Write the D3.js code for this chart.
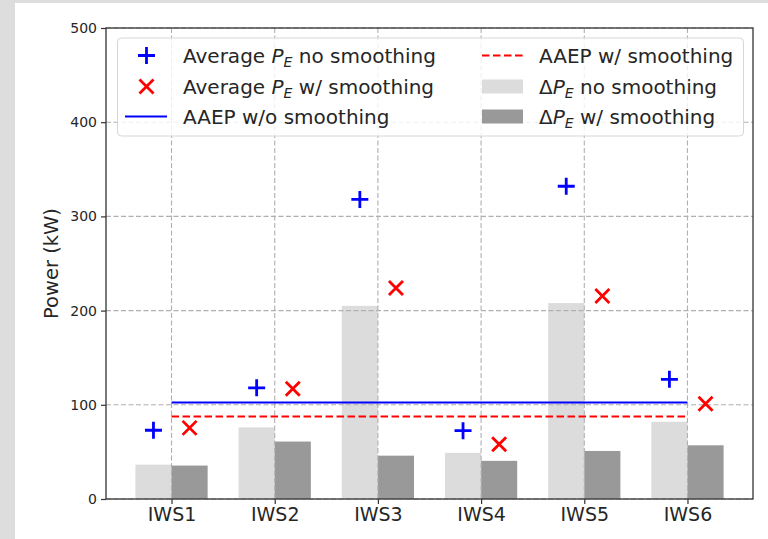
<!DOCTYPE html>
<html lang="en">
<head>
    <meta charset="UTF-8">
    <title>Power per IWS</title>
    <style>
        body { margin: 0; background: #dddddd; }
        svg { display: block; font-family: "DejaVu Sans", sans-serif; }
    </style>
</head>
<body>
    <div id="chart"></div>
    <script src="https://d3js.org/d3.v7.min.js"></script>
    <script>
        // data
        const sites = ["IWS1", "IWS2", "IWS3", "IWS4", "IWS5", "IWS6"];
        const avgNoSmooth = [73, 118, 318, 72.5, 332, 127];
        const avgSmooth = [75.5, 117, 224, 58, 215.5, 101];
        const deltaNoSmooth = [36.5, 76, 205, 49, 208, 82];
        const deltaSmooth = [35.5, 61, 46, 40.5, 51, 57];
        const aaepNoSmooth = 102.5;
        const aaepSmooth = 87.5;
        const yTicks = [0, 100, 200, 300, 400, 500];

        const width = 768, height = 539;
        const m = { left: 106, right: 753, top: 28, bottom: 499 };

        const svg = d3.select("#chart").append("svg").attr("width", width).attr("height", height);
        svg.append("rect").attr("x", 15).attr("y", 3).attr("width", width - 15).attr("height", height - 3).attr("fill", "#fff");

        // matplotlib style: positions 0..5, bars +-0.175, margins
        const x = d3.scaleLinear().domain([-0.635, 5.635]).range([m.left, m.right]);
        const y = d3.scaleLinear().domain([0, 500]).range([m.bottom, m.top]);
        const bw = 0.35;
        const idx = sites.map((d, i) => i);

        // bars
        svg.append("g").selectAll("rect").data(idx).enter().append("rect")
            .attr("x", i => x(i - bw))
            .attr("width", x(bw) - x(0))
            .attr("y", i => y(deltaNoSmooth[i]))
            .attr("height", i => y(0) - y(deltaNoSmooth[i]))
            .attr("fill", "#dcdcdc");
        svg.append("g").selectAll("rect").data(idx).enter().append("rect")
            .attr("x", i => x(i))
            .attr("width", x(bw) - x(0))
            .attr("y", i => y(deltaSmooth[i]))
            .attr("height", i => y(0) - y(deltaSmooth[i]))
            .attr("fill", "#999999");

        // grid
        const grid = svg.append("g").attr("stroke", "#b0b0b0").attr("stroke-width", 1.1).attr("stroke-dasharray", "5,2.5");
        yTicks.forEach(t => grid.append("line").attr("x1", m.left).attr("x2", m.right).attr("y1", y(t)).attr("y2", y(t)));
        idx.forEach(i => grid.append("line").attr("x1", x(i)).attr("x2", x(i)).attr("y1", m.top).attr("y2", m.bottom));

        // AAEP lines
        svg.append("line").attr("x1", x(0)).attr("x2", x(5)).attr("y1", y(aaepNoSmooth)).attr("y2", y(aaepNoSmooth))
            .attr("stroke", "#0000ff").attr("stroke-width", 2);
        svg.append("line").attr("x1", x(0)).attr("x2", x(5)).attr("y1", y(aaepSmooth)).attr("y2", y(aaepSmooth))
            .attr("stroke", "#ff0000").attr("stroke-width", 2).attr("stroke-dasharray", "7.5,3.5");

        // markers
        const plus = (g, cx, cy, s) => g.append("path")
            .attr("d", `M${cx - s},${cy}H${cx + s}M${cx},${cy - s}V${cy + s}`)
            .attr("stroke", "#0000ff").attr("stroke-width", 2.8).attr("fill", "none");
        const cross = (g, cx, cy, s) => g.append("path")
            .attr("d", `M${cx - s},${cy - s}L${cx + s},${cy + s}M${cx - s},${cy + s}L${cx + s},${cy - s}`)
            .attr("stroke", "#ff0000").attr("stroke-width", 2.8).attr("fill", "none");
        const mk = svg.append("g");
        idx.forEach(i => {
            plus(mk, x(i - 0.175), y(avgNoSmooth[i]), 8.5);
            cross(mk, x(i + 0.175), y(avgSmooth[i]), 7);
        });

        // spines
        svg.append("rect").attr("x", m.left).attr("y", m.top).attr("width", m.right - m.left).attr("height", m.bottom - m.top)
            .attr("fill", "none").attr("stroke", "#333").attr("stroke-width", 1.3);

        // y axis
        const yAxis = svg.append("g").attr("transform", `translate(${m.left},0)`)
            .call(d3.axisLeft(y).tickValues(yTicks).tickSize(5).tickPadding(4));
        yAxis.select(".domain").remove();
        yAxis.selectAll("line").attr("stroke", "#333").attr("stroke-width", 1.2);
        yAxis.selectAll("text").attr("font-size", 14).attr("fill", "#262626").attr("font-family", "DejaVu Sans");

        const xAxis = svg.append("g").attr("transform", `translate(0,${m.bottom})`)
            .call(d3.axisBottom(x).tickValues(idx).tickFormat(i => sites[i]).tickSize(5).tickPadding(4));
        xAxis.select(".domain").remove();
        xAxis.selectAll("line").attr("stroke", "#333").attr("stroke-width", 1.2);
        xAxis.selectAll("text").attr("font-size", 19).attr("fill", "#262626").attr("font-family", "DejaVu Sans");

        svg.append("text").attr("transform", `translate(58,${(m.top + m.bottom) / 2}) rotate(-90)`)
            .attr("text-anchor", "middle").attr("font-size", 19.5).attr("fill", "#262626").text("Power (kW)");

        // legend
        const lg = svg.append("g");
        lg.append("rect").attr("x", 117.5).attr("y", 38).attr("width", 626).attr("height", 98).attr("rx", 4)
            .attr("fill", "#fff").attr("fill-opacity", 0.8).attr("stroke", "#d6d6d6").attr("stroke-width", 1);
        const rows = [55.5, 86.5, 116.5];
        const fs = 20;

        function label(tx, ty, pre, mathDelta, post) {
            const t = lg.append("text").attr("x", tx).attr("y", ty).attr("dy", "0.35em")
                .attr("font-size", fs).attr("fill", "#262626");
            if (pre) t.append("tspan").text(pre);
            if (mathDelta !== null) {
                if (mathDelta) t.append("tspan").text("Δ");
                t.append("tspan").attr("font-style", "italic").text("P");
                t.append("tspan").attr("font-style", "italic").attr("font-size", fs * 0.7).attr("dy", 4).text("E");
                t.append("tspan").attr("dy", -4).text(post);
            } else {
                t.append("tspan").text(post);
            }
        }

        plus(lg, 146.5, rows[0], 8.5);
        label(183, rows[0], "Average ", false, " no smoothing");
        cross(lg, 146.5, rows[1], 7);
        label(183, rows[1], "Average ", false, " w/ smoothing");
        lg.append("line").attr("x1", 125).attr("x2", 167).attr("y1", rows[2]).attr("y2", rows[2])
            .attr("stroke", "#0000ff").attr("stroke-width", 2);
        label(183, rows[2], "", null, "AAEP w/o smoothing");

        lg.append("line").attr("x1", 482).attr("x2", 523).attr("y1", rows[0]).attr("y2", rows[0])
            .attr("stroke", "#ff0000").attr("stroke-width", 2).attr("stroke-dasharray", "7.5,3.5");
        label(539, rows[0], "", null, "AAEP w/ smoothing");
        lg.append("rect").attr("x", 482).attr("y", rows[1] - 7).attr("width", 41).attr("height", 14).attr("fill", "#dcdcdc");
        label(539, rows[1], "", true, " no smoothing");
        lg.append("rect").attr("x", 482).attr("y", rows[2] - 7).attr("width", 41).attr("height", 14).attr("fill", "#999999");
        label(539, rows[2], "", true, " w/ smoothing");
    </script>
</body>
</html>
